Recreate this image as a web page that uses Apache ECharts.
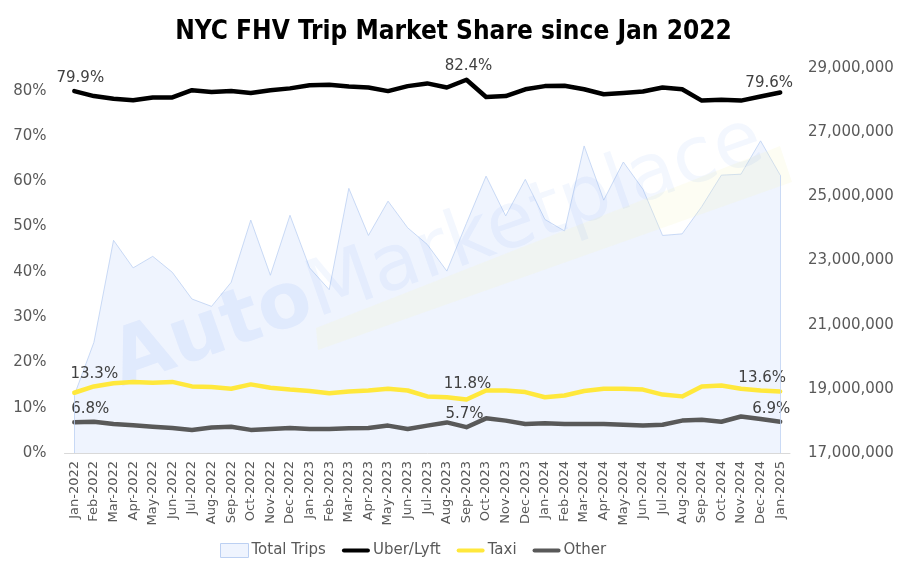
<!DOCTYPE html>
<html>
<head>
<meta charset="utf-8">
<script src="https://cdn.jsdelivr.net/npm/echarts@6/dist/echarts.min.js"></script>
<style>
html,body{margin:0;padding:0;background:#fff;}
#chart{width:907px;height:571px;}
</style>
</head>
<body>
<div id="chart"></div>
<script>
var categories = ['Jan-2022','Feb-2022','Mar-2022','Apr-2022','May-2022','Jun-2022','Jul-2022','Aug-2022','Sep-2022','Oct-2022','Nov-2022','Dec-2022',
  'Jan-2023','Feb-2023','Mar-2023','Apr-2023','May-2023','Jun-2023','Jul-2023','Aug-2023','Sep-2023','Oct-2023','Nov-2023','Dec-2023',
  'Jan-2024','Feb-2024','Mar-2024','Apr-2024','May-2024','Jun-2024','Jul-2024','Aug-2024','Sep-2024','Oct-2024','Nov-2024','Dec-2024','Jan-2025'];
var totalTrips = [18800000,20450000,23630000,22770000,23130000,22630000,21800000,21570000,22320000,24260000,22540000,24410000,
  22770000,22090000,25250000,23780000,24850000,24020000,23500000,22670000,24160000,25630000,24390000,25530000,
  24280000,23920000,26570000,24880000,26070000,25220000,23780000,23830000,24680000,25660000,25690000,26730000,25660000];
var uberLyft = [79.9,78.8,78.2,77.9,78.5,78.5,80.1,79.7,79.9,79.5,80.1,80.5,
  81.2,81.3,80.9,80.7,79.9,81.0,81.6,80.7,82.4,78.6,78.8,80.3,
  81.0,81.1,80.3,79.2,79.5,79.8,80.7,80.3,77.8,78.0,77.8,78.7,79.6];
var taxi = [13.3,14.7,15.4,15.7,15.5,15.7,14.7,14.55,14.2,15.15,14.4,14.0,
  13.7,13.2,13.6,13.8,14.2,13.8,12.5,12.3,11.8,13.8,13.8,13.45,
  12.3,12.7,13.7,14.2,14.2,14.0,12.9,12.5,14.7,14.9,14.2,13.8,13.6];
var other = [6.8,6.9,6.4,6.15,5.8,5.5,5.1,5.65,5.8,5.1,5.3,5.5,
  5.3,5.3,5.45,5.5,6.05,5.3,6.05,6.75,5.7,7.65,7.15,6.4,
  6.55,6.4,6.4,6.4,6.25,6.05,6.25,7.15,7.35,6.9,8.05,7.5,6.9];
var leftTicks = [0,10,20,30,40,50,60,70,80];
var rightTicks = [17000000,19000000,21000000,23000000,25000000,27000000,29000000];

var FONT = 'DejaVu Sans';
var labelIdx = [0, 20, 36];
function withLabels(arr, offsets) {
  return arr.map(function (v, i) {
    var k = labelIdx.indexOf(i);
    if (k < 0) return v;
    return {
      value: v,
      label: {
        show: true, position: 'top', distance: 5, offset: offsets[k],
        formatter: function (p) { return p.value.toFixed(1) + '%'; },
        color: '#404040', fontSize: 15, fontFamily: FONT
      }
    };
  });
}
var lineIcon = 'path://M2,0 L26,0 A2,2 0 0 1 26,4 L2,4 A2,2 0 0 1 2,0 Z';

function lineSeries(name, arr, color, z, offsets) {
  return {
    name: name, type: 'line', yAxisIndex: 0, z: z,
    symbol: 'circle', symbolSize: 0, showSymbol: true,
    color: color,
    itemStyle: { color: color },
    label: { show: false },
    lineStyle: { color: color, width: 4.5, cap: 'round', join: 'round' },
    data: withLabels(arr, offsets)
  };
}

var chart = echarts.init(document.getElementById('chart'));
var option = {
  animation: false,
  backgroundColor: '#ffffff',
  title: {
    text: 'NYC FHV Trip Market Share since Jan 2022',
    left: 'center', top: 14,
    textStyle: { fontFamily: "'Liberation Sans Narrow', 'DejaVu Sans Condensed', sans-serif", fontWeight: 'bold', fontSize: 26, color: '#000' }
  },
  legend: {
    bottom: 8, left: 215,
    itemGap: 16, itemWidth: 28, itemHeight: 14,
    textStyle: { color: '#595959', fontSize: 15, fontFamily: FONT, padding: [0, 0, 0, -2] },
    data: [
      { name: 'Total Trips', icon: 'rect', itemStyle: { color: '#EFF4FE', borderColor: '#BCD0F2', borderWidth: 1 } },
      { name: 'Uber/Lyft', icon: lineIcon, itemStyle: { color: '#000000' } },
      { name: 'Taxi', icon: lineIcon, itemStyle: { color: '#FFE83C' } },
      { name: 'Other', icon: lineIcon, itemStyle: { color: '#595959' } }
    ]
  },
  grid: { left: 64.5, right: 117, top: 68, bottom: 118, containLabel: false },
  xAxis: {
    type: 'category', data: categories, boundaryGap: true,
    axisLine: { lineStyle: { color: '#D9D9D9', width: 1 } },
    axisTick: { show: false },
    axisLabel: { rotate: 90, interval: 0, color: '#595959', fontSize: 13, fontFamily: FONT, margin: 8 }
  },
  yAxis: [
    {
      type: 'value', min: 0, max: 85, interval: 10, position: 'left',
      splitLine: { show: false }, axisLine: { show: false }, axisTick: { show: false },
      axisLabel: {
        color: '#595959', fontSize: 15, fontFamily: FONT, margin: 18,
        formatter: function (v) { return leftTicks.indexOf(v) >= 0 ? v + '%' : ''; }
      }
    },
    {
      type: 'value', min: 17000000, max: 29000000, interval: 1000000, position: 'right',
      alignTicks: false,
      splitLine: { show: false }, axisLine: { show: false }, axisTick: { show: false },
      axisLabel: {
        color: '#595959', fontSize: 15, fontFamily: FONT, margin: 18,
        formatter: function (v) { return rightTicks.indexOf(v) >= 0 ? v.toLocaleString('en-US') : ''; }
      }
    }
  ],
  graphic: [
    {
      type: 'polygon', z: 1, silent: true,
      shape: { points: [[316, 328], [780, 146], [792, 182], [318, 350]] },
      style: { fill: 'rgba(245,245,200,0.22)' }
    },
    {
      type: 'text', z: 1, silent: true,
      x: 438, y: 253, rotation: 0.34,
      style: {
        text: '{a|Auto}{b|Marketplace}',
        align: 'center', verticalAlign: 'middle',
        rich: {
          a: { fontFamily: FONT, fontWeight: 'bold', fontSize: 78, fill: 'rgba(80,130,240,0.09)' },
          b: { fontFamily: FONT, fontWeight: 'normal', fontSize: 78, fill: 'rgba(80,130,240,0.065)' }
        }
      }
    }
  ],
  series: [
    {
      name: 'Total Trips', type: 'line', yAxisIndex: 1, z: 0,
      data: totalTrips, symbol: 'none',
      color: '#EFF4FE',
      lineStyle: { color: '#BCD0F2', width: 0.8 },
      areaStyle: { color: '#EFF4FE', opacity: 1 },
      markLine: {
        silent: true, symbol: 'none', label: { show: false },
        lineStyle: { color: '#BCD0F2', width: 0.8, type: 'solid' },
        data: [
          [{ coord: [0, 17000000] }, { coord: [0, totalTrips[0]] }],
          [{ coord: [categories.length - 1, 17000000] }, { coord: [categories.length - 1, totalTrips[totalTrips.length - 1]] }]
        ]
      }
    },
    lineSeries('Uber/Lyft', uberLyft, '#000000', 5, [[6, 0], [2, -1], [-11, 3]]),
    lineSeries('Taxi', taxi, '#FFE83C', 4, [[20, -6], [1, -3], [-18, -1]]),
    lineSeries('Other', other, '#595959', 4, [[16, -1], [-2, -1], [-9, 0]])
  ]
};
chart.setOption(option);
</script>
</body>
</html>
